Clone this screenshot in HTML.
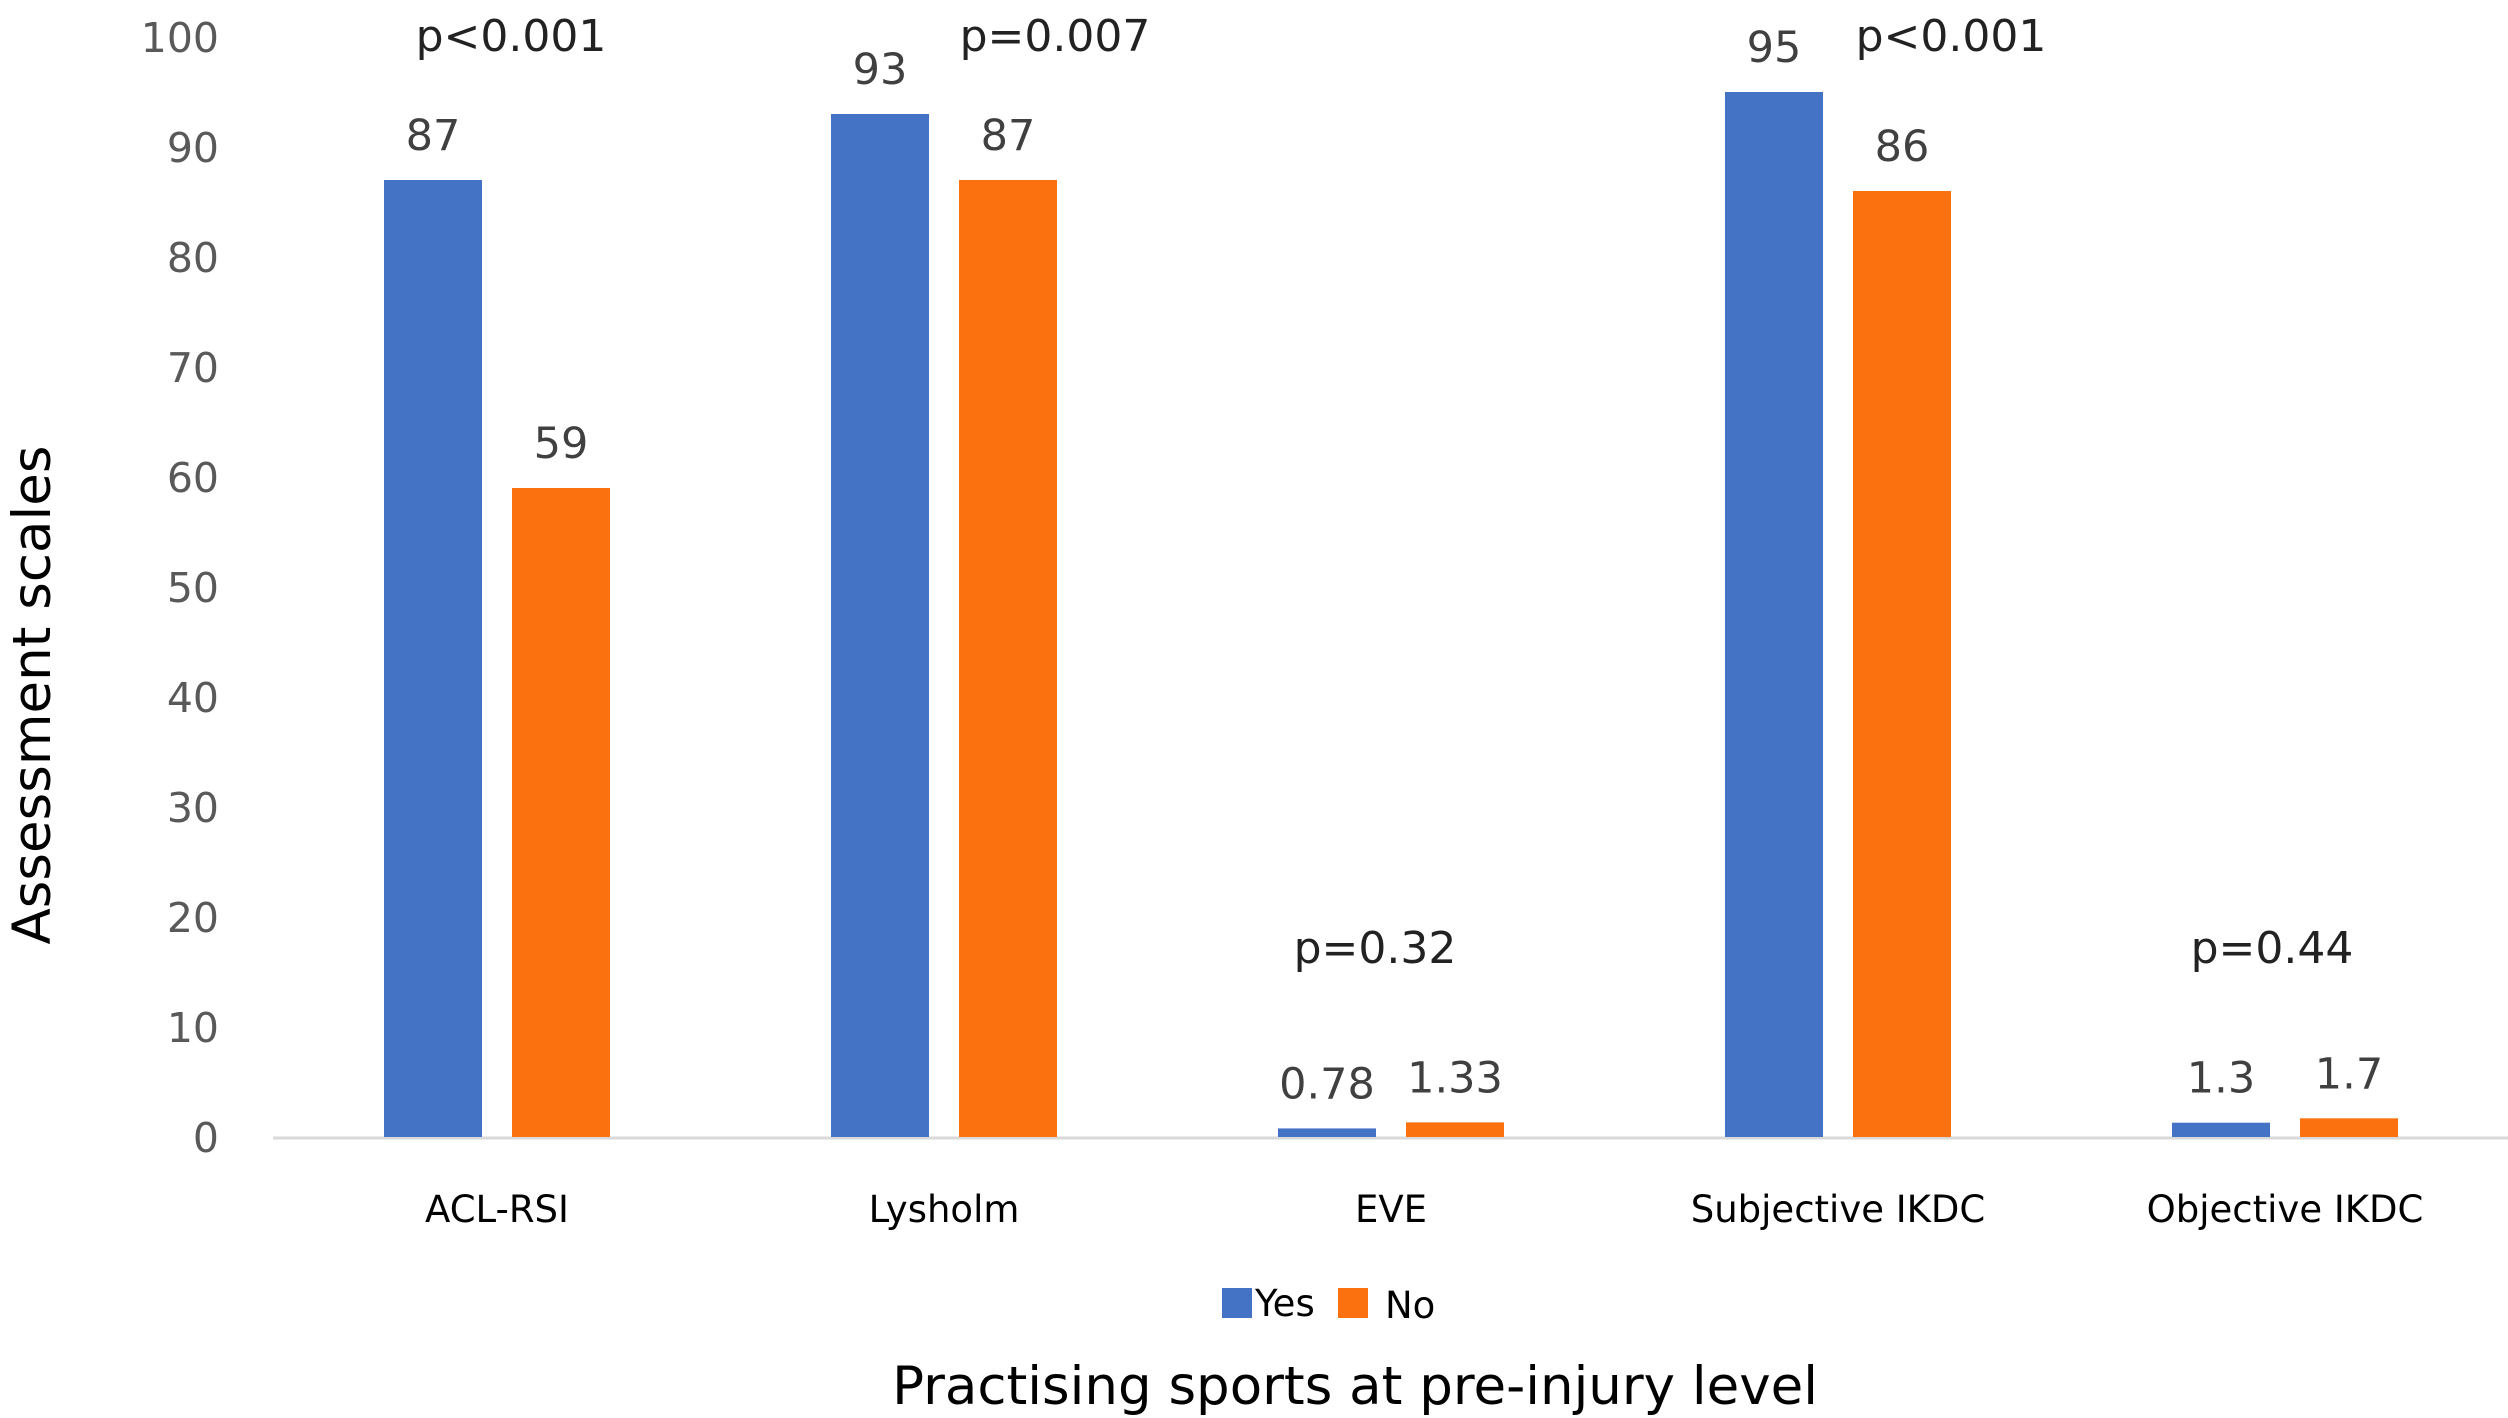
<!DOCTYPE html>
<html><head><meta charset="utf-8"><style>
html,body{margin:0;padding:0;background:#fff;}
svg{display:block;font-family:"DejaVu Sans","Liberation Sans",sans-serif;}
</style></head><body>
<svg id="chart" width="2508" height="1418"></svg>
<script>
const categories=["ACL-RSI","Lysholm","EVE","Subjective IKDC","Objective IKDC"];
const yesValues=[87,93,0.78,95,1.3];
const noValues=[59,87,1.33,86,1.7];
const yesLabels=["87","93","0.78","95","1.3"];
const noLabels=["59","87","1.33","86","1.7"];
const pLabels=["p<0.001","p=0.007","p=0.32","p<0.001","p=0.44"];
const pHigh=[true,true,false,true,false];
const pOffset=[14,111,-16,113,-13];
const yTicks=[0,10,20,30,40,50,60,70,80,90,100];

const svg=document.getElementById('chart');
const NS="http://www.w3.org/2000/svg";
const y0=1137,y100=37;
function yScale(v){return y0-(y0-y100)*v/100;}
function xCenter(i){return 497+i*447;}
function mk(tag,attrs,txt){const e=document.createElementNS(NS,tag);for(const k in attrs)e.setAttribute(k,attrs[k]);if(txt!==undefined)e.textContent=txt;svg.appendChild(e);return e;}

yTicks.forEach(t=>{
  const e=mk('text',{x:219,y:yScale(t)+15,'text-anchor':'end','font-size':41,fill:'#595959'},String(t));
  
  
});
const ax=mk('line',{x1:273,x2:2508,y1:y0+1,y2:y0+1,stroke:'#d9d9d9','stroke-width':3});



categories.forEach((c,i)=>{
  const cx=xCenter(i);
  const yb=mk('rect',{x:cx-113,y:yScale(yesValues[i]),width:98,height:y0-yScale(yesValues[i]),fill:'#4472c4'});
  
  
  const nb=mk('rect',{x:cx+15,y:yScale(noValues[i]),width:98,height:y0-yScale(noValues[i]),fill:'#fb710f'});
  
  
  const yl=mk('text',{x:cx-64,y:yScale(yesValues[i])-30,'text-anchor':'middle','font-size':43,fill:'#404040'},yesLabels[i]);
  
  
  const nl=mk('text',{x:cx+64,y:yScale(noValues[i])-30,'text-anchor':'middle','font-size':43,fill:'#404040'},noLabels[i]);
  
  
  const pl=mk('text',{x:cx+pOffset[i],y:pHigh[i]?51:963,'text-anchor':'middle','font-size':44,fill:'#222'},pLabels[i]);
  
  
  const cl=mk('text',{x:cx,y:1222,'text-anchor':'middle','font-size':37,fill:'#000'},c);
  
  
});

const lg1=mk('rect',{x:1222,y:1288,width:30,height:30,fill:'#4472c4'});


const lt1=mk('text',{x:1255,y:1316,'font-size':37,fill:'#000'},'Yes');


const lg2=mk('rect',{x:1338,y:1288,width:30,height:30,fill:'#fb710f'});


const lt2=mk('text',{x:1385,y:1318,'font-size':37,fill:'#000'},'No');



const xt=mk('text',{x:1355,y:1404,'text-anchor':'middle','font-size':53,fill:'#000'},'Practising sports at pre-injury level');


const yt=mk('text',{x:0,y:0,'text-anchor':'middle','font-size':53,fill:'#000',transform:'translate(50,695) rotate(-90)'},'Assessment scales');


</script>
</body></html>
